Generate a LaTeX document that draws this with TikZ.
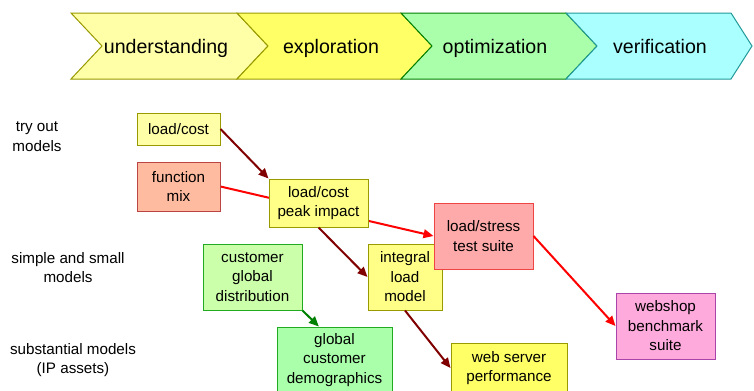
\documentclass[tikz,border=0pt]{standalone}
\usepackage{fontspec}
\setmainfont{Liberation Sans}
\usetikzlibrary{arrows.meta,backgrounds}

\definecolor{paleyellow}{HTML}{FFFFA8}
\definecolor{midyellow}{HTML}{FFFF88}
\definecolor{brightyellow}{HTML}{FFFF66}
\definecolor{olive}{HTML}{999900}
\definecolor{palegreen}{HTML}{AAFFAA}
\definecolor{limegreen}{HTML}{CCFFAA}
\definecolor{darkgreen}{HTML}{22AA22}
\definecolor{palecyan}{HTML}{AAFFFF}
\definecolor{teal}{HTML}{229999}
\definecolor{salmon}{HTML}{FFBBA0}
\definecolor{brick}{HTML}{BB4444}
\definecolor{rose}{HTML}{FFAAAA}
\definecolor{rosered}{HTML}{EE4444}
\definecolor{pinkish}{HTML}{FFAADD}
\definecolor{plum}{HTML}{AA44AA}
\definecolor{maroon}{HTML}{800000}
\definecolor{arrowgreen}{HTML}{008000}

\begin{document}
\begin{tikzpicture}[x=0.75pt,y=-0.75pt]
\tikzstyle{every node}+=[inner sep=0pt,align=center,font=\fontsize{11.4}{14.6}\selectfont]
\tikzstyle{phase}=[line width=0.75pt]
\tikzstyle{phasetext}=[font=\fontsize{14.7}{17}\selectfont,text height=10.5pt,text depth=0pt]
\tikzstyle{box}=[draw,line width=0.75pt]
\tikzstyle{link}=[line width=1.5pt,-{Triangle[length=7.5pt,width=6.5pt]}]
\useasboundingbox (0,0) rectangle (754,390);
% phases
\filldraw [phase,fill=paleyellow,draw=olive] (71,13) -- (237,13) -- (268,46) -- (237,79) -- (71,79) -- (102,46) -- cycle;
\node [phasetext] (und) at (166,46) {understanding};
\filldraw [phase,fill=brightyellow,draw=olive] (237,13) -- (401,13) -- (432,46) -- (401,79) -- (237,79) -- (268,46) -- cycle;
\node [phasetext] (exp) at (331,46) {exploration};
\filldraw [phase,fill=palegreen,draw=arrowgreen] (401,13) -- (566,13) -- (597,46) -- (566,79) -- (401,79) -- (432,46) -- cycle;
\node [phasetext] (opt) at (495,46) {optimization};
\filldraw [phase,fill=palecyan,draw=teal] (566,13) -- (731,13) -- (752,46) -- (731,79) -- (566,79) -- (597,46) -- cycle;
\node [phasetext] (ver) at (660,46) {verification};
% model levels
\node (tryout) at (37,136.5) {try out\\models};
\node (simple) at (68,267.5) {simple and small\\models};
\node (subst) at (73,360) {substantial models\\(IP assets)};
% models
\node [box,fill=paleyellow,draw=olive,minimum width=62.25pt,minimum height=24pt] (lc) at (178.5,129) {load/cost};
\node [box,fill=salmon,draw=brick,minimum width=62.25pt,minimum height=36.75pt] (mix) at (178.5,186.5) {function\\mix};
\node [box,fill=midyellow,draw=olive,minimum width=74.25pt,minimum height=36pt] (peak) at (318.5,203) {load/cost\\peak impact};
\node [box,fill=limegreen,draw=darkgreen,minimum width=74.25pt,minimum height=49.5pt] (cgd) at (252.5,277) {customer\\global\\distribution};
\node [box,fill=palegreen,draw=darkgreen,minimum width=86.25pt,minimum height=49.5pt] (demog) at (334.5,360) {global\\customer\\demographics};
\node [box,fill=midyellow,draw=olive,minimum width=55.5pt,minimum height=49.5pt] (integral) at (405,277) {integral\\load\\model};
\node [box,fill=rose,draw=rosered,minimum width=74.25pt,minimum height=49.5pt] (stress) at (483.5,236) {load/stress\\test suite};
\node [box,fill=pinkish,draw=plum,minimum width=74.25pt,minimum height=49.5pt] (shop) at (665.5,326) {webshop\\benchmark\\suite};
\node [box,fill=brightyellow,draw=olive,minimum width=87pt,minimum height=37.5pt] (websrv) at (509,368) {web server\\performance};
% dependencies
\begin{pgfonlayer}{background}
\draw [link,red] (mix.east) -- (stress.west);
\end{pgfonlayer}
\draw [link,maroon] (lc.east) -- (peak.north west);
\draw [link,maroon] (peak.south) -- (integral.west);
\draw [link,arrowgreen] (cgd.south east) -- (demog.115);
\draw [link,maroon] (integral.south) -- (websrv.west);
\draw [link,red] (stress.east) -- (shop.west);
\end{tikzpicture}
\end{document}
